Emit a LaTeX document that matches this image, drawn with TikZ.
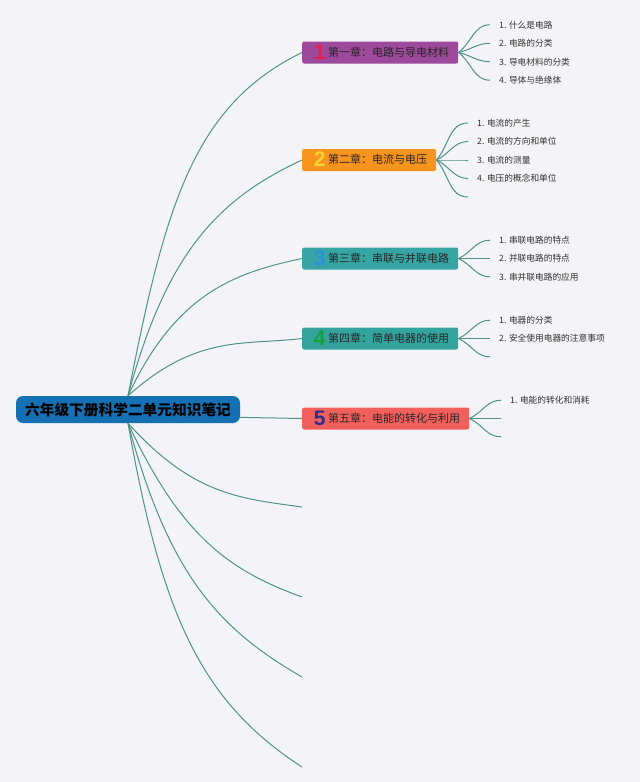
\documentclass[tikz,border=0pt]{standalone}
\usepackage{fontspec}
\newfontfamily\cjk{Noto Sans CJK SC}
\newfontfamily\numfont{Liberation Sans}
\definecolor{bg}{HTML}{F3F3F8}
\definecolor{linecol}{HTML}{4F9483}
\definecolor{rootblue}{HTML}{1570B4}
\definecolor{ch1}{HTML}{9E4A9C}
\definecolor{ch2}{HTML}{F7941D}
\definecolor{ch3}{HTML}{38A5A5}
\definecolor{ch4}{HTML}{35A39D}
\definecolor{ch5}{HTML}{F2605E}
\definecolor{num1}{HTML}{E8204A}
\definecolor{num2}{HTML}{F8D531}
\definecolor{num3}{HTML}{2A90E2}
\definecolor{num4}{HTML}{12A03A}
\definecolor{num5}{HTML}{2B2F8F}
\newcommand\chapnum[2]{\makebox[17pt][c]{\raisebox{-3pt}{\numfont\bfseries\fontsize{21}{21}\selectfont\color{#1}#2}}}

\begin{document}
\begin{tikzpicture}[x=1pt,y=1pt,
    conn/.style={draw=linecol,line width=1pt},
    rootbox/.style={fill=rootblue,rounded corners=7pt,minimum width=224pt,minimum height=27pt,inner sep=0pt,
        font=\cjk\bfseries\fontsize{14.7}{16}\selectfont,text=black},
    chapbox/.style={anchor=west,minimum height=22pt,inner xsep=9pt,inner ysep=0pt,rounded corners=2pt,
        text height=9pt,text depth=2pt,font=\cjk\fontsize{11}{13}\selectfont,text=black!85},
    leaf/.style={anchor=west,inner xsep=9pt,inner ysep=1pt,font=\cjk\fontsize{8.7}{10}\selectfont,text=black!80}]
\useasboundingbox (0,0) rectangle (640,-782);
\fill[bg] (0,0) rectangle (640,-782);
% 中心主题
\node[rootbox] (root) at (128,-409.5) {六年级下册科学二单元知识笔记};
% 各章
\node[chapbox,fill=ch1] (c1) at (302,-52.5) {\chapnum{num1}{1}第一章：电路与导电材料};
\node[chapbox,fill=ch2] (c2) at (302,-160) {\chapnum{num2}{2}第二章：电流与电压};
\node[chapbox,fill=ch3] (c3) at (302,-258.5) {\chapnum{num3}{3}第三章：串联与并联电路};
\node[chapbox,fill=ch4] (c4) at (302,-338.5) {\chapnum{num4}{4}第四章：简单电器的使用};
\node[chapbox,fill=ch5] (c5) at (302,-418.5) {\chapnum{num5}{5}第五章：电能的转化与利用};
% 空分支
\coordinate (e1) at (302,-507);
\coordinate (e2) at (302,-597);
\coordinate (e3) at (302,-677);
\coordinate (e4) at (302,-767);
% 主干
\foreach \c/\o/\n in {c1/79/206,c2/75/205,c3/65/192,c4/42/187}
    \draw[conn] (root.north) to[out=\o,in=\n,out looseness=1.3,in looseness=0.8] (\c.west);
\draw[conn] (root.-4) -- (c5.west);
\foreach \e/\o/\n in {e1/-48/172,e2/-65/160,e3/-75/150,e4/-80/147}
    \draw[conn] (root.south) to[out=\o,in=\n,out looseness=1.3,in looseness=0.8] (\e);
% 第一章
\foreach \t [count=\i] in {什么是电路,电路的分类,导电材料的分类,导体与绝缘体}{
    \pgfmathsetmacro\dy{18.5*(2.5-\i)}
    \pgfmathsetmacro\a{1.3*\dy}
    \pgfmathsetmacro\y{-52.5+\dy}
    \node[leaf] (c1l\i) at (490,\y) {\i. \t};
    \draw[conn] (c1.east) to[out=\a,in=180] (c1l\i.west);
}
% 第二章
\foreach \t [count=\i] in {电流的产生,电流的方向和单位,电流的测量,电压的概念和单位}{
    \pgfmathsetmacro\dy{18.5*(3-\i)}
    \pgfmathsetmacro\a{1.3*\dy}
    \pgfmathsetmacro\y{-160+\dy}
    \node[leaf] (c2l\i) at (468,\y) {\i. \t};
    \draw[conn] (c2.east) to[out=\a,in=180] (c2l\i.west);
}
\coordinate (c2l5) at (468,-197);
\draw[conn] (c2.east) to[out=-48,in=180] (c2l5);
% 第三章
\foreach \t [count=\i] in {串联电路的特点,并联电路的特点,串并联电路的应用}{
    \pgfmathsetmacro\dy{18.3*(2-\i)}
    \pgfmathsetmacro\a{1.3*\dy}
    \pgfmathsetmacro\y{-258.5+\dy}
    \node[leaf] (c3l\i) at (490,\y) {\i. \t};
    \draw[conn] (c3.east) to[out=\a,in=180] (c3l\i.west);
}
% 第四章
\foreach \t [count=\i] in {电器的分类,安全使用电器的注意事项}{
    \pgfmathsetmacro\dy{18.3*(2-\i)}
    \pgfmathsetmacro\a{1.3*\dy}
    \pgfmathsetmacro\y{-338.5+\dy}
    \node[leaf] (c4l\i) at (490,\y) {\i. \t};
    \draw[conn] (c4.east) to[out=\a,in=180] (c4l\i.west);
}
\coordinate (c4l3) at (490,-356.8);
\draw[conn] (c4.east) to[out=-24,in=180] (c4l3);
% 第五章
\node[leaf] (c5l1) at (501,-400.2) {1. 电能的转化和消耗};
\coordinate (c5l2) at (501,-418.5);
\coordinate (c5l3) at (501,-436.8);
\draw[conn] (c5.east) to[out=24,in=180] (c5l1.west);
\draw[conn] (c5.east) -- (c5l2);
\draw[conn] (c5.east) to[out=-24,in=180] (c5l3);
\end{tikzpicture}
\end{document}
